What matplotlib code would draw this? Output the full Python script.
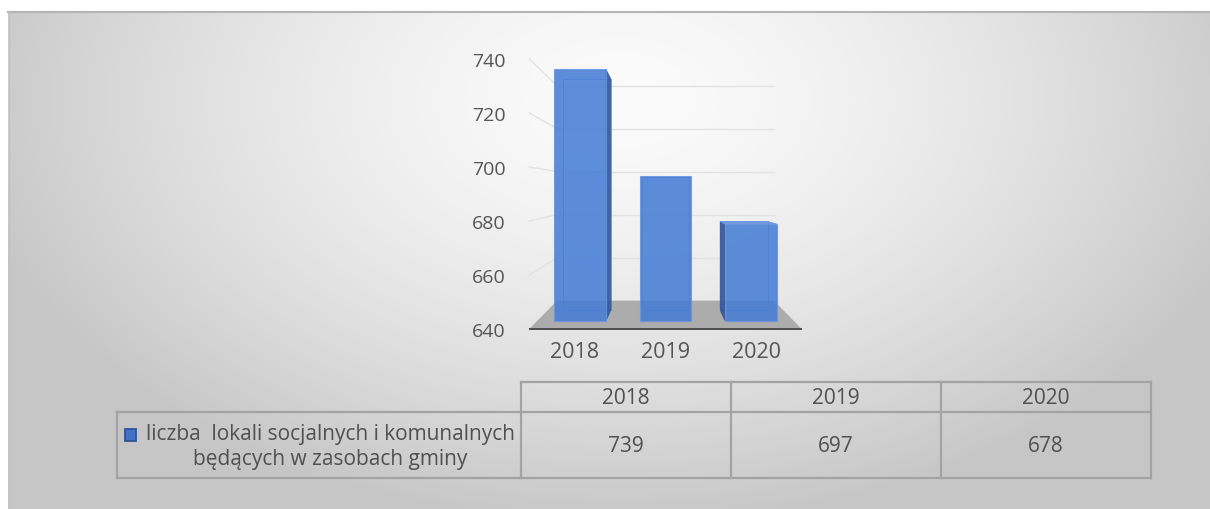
import numpy as np
import matplotlib
matplotlib.use("Agg")
import matplotlib.pyplot as plt
from matplotlib.patches import Polygon, Rectangle

# ---------------- data ----------------
categories = ["2018", "2019", "2020"]
values = [739, 697, 678]
series_name = "liczba  lokali socjalnych i komunalnych\nbędących w zasobach gminy"
yticks = [640, 660, 680, 700, 720, 740]

plt.rcParams["font.family"] = ["Open Sans", "DejaVu Sans"]

W, H = 1210, 510
fig = plt.figure(figsize=(W / 100, H / 100), dpi=100)
fig.patch.set_facecolor("white")


def fx(px):
    return px / W


def fy(py):
    return 1 - py / H


# ---------------- background (radial gray gradient) ----------------
bg = fig.add_axes([0, 0, 1, 1], zorder=0)
bg.set_xlim(0, W)
bg.set_ylim(H, 0)
bg.axis("off")
X, Y = np.meshgrid(np.arange(8, W, 2.0), np.arange(12, H, 2.0))
d = np.sqrt(((X - 620) / 700) ** 2 + ((Y - 100) / 450) ** 2)
g = np.clip(251 - 57 * d ** 1.5, 198, 251) / 255
bg.imshow(np.dstack([g, g, g]), extent=(8, W, H, 12), aspect="auto",
          interpolation="bilinear")
bg.plot([8, W], [12.5, 12.5], color="#b4b4b4", lw=1.5)
bg.plot([8.5, 8.5], [12, H], color="#c2c2c2", lw=1)
bg.set_xlim(0, W)
bg.set_ylim(H, 0)

# ---------------- 3D column chart ----------------
L, R, T, B = 529.3, 801.7, 60, 330
ax = fig.add_axes([fx(L), fy(B), (R - L) / W, (B - T) / H], zorder=2)
ax.patch.set_alpha(0)
ax.set_xlim(-0.5, 2.5)
ax.set_ylim(640, 740)
for s in ax.spines.values():
    s.set_visible(False)
ax.set_yticks(yticks)
ax.set_xticks(range(len(categories)))
ax.set_xticklabels(categories)
ax.tick_params(axis="y", length=0, labelsize=14, labelcolor="#555555", pad=17)
ax.tick_params(axis="x", length=0, labelsize=15.5, labelcolor="#555555", pad=9)

VX, VY = 1.0, 691.5          # vanishing point (data coords)
K_WALL = 0.796               # depth factor of back wall
K_BF, K_BB = 0.94, 0.865     # depth factors of bar front / back faces
HW = 0.303                   # half bar width (front plane)
BASE = yticks[0]


def proj(x, y, k):
    return (VX + k * (x - VX), VY + k * (y - VY))


x0, x1 = ax.get_xlim()
# back wall and side wall gridlines
for v in yticks[1:]:
    p, q = proj(x0, v, K_WALL), proj(x1, v, K_WALL)
    ax.plot([p[0], q[0]], [p[1], q[1]], color="#e2e2e2", lw=1, zorder=0.5,
            clip_on=False)
    p2 = proj(x0, v, 1.0)
    ax.plot([p2[0], p[0]], [p2[1], p[1]], color="#e2e2e2", lw=1, zorder=0.5,
            clip_on=False)

# floor
floor = [proj(x0, BASE, 1), proj(x1, BASE, 1), proj(x1, BASE, K_WALL),
         proj(x0, BASE, K_WALL)]
ax.add_patch(Polygon(floor, closed=True, fc="#acacac", ec="none", zorder=1,
                     clip_on=False))
ax.plot([x0, x1], [BASE, BASE], color="#4d4d4d", lw=1.4, zorder=1.2,
        clip_on=False, solid_capstyle="butt")

FACE = "#477ED5"
SIDE = "#34569A"
TOP = "#6E98E0"
EDGE = "#6A96DD"
ALPHA = 0.88

xs = np.arange(len(values))
vals = np.array(values, dtype=float)

for x, v in zip(xs, vals):
    # back face edges (seen through the translucent bar)
    back = [proj(x - HW, BASE, K_BB), proj(x + HW, BASE, K_BB),
            proj(x + HW, v, K_BB), proj(x - HW, v, K_BB)]
    ax.add_patch(Polygon(back, closed=True, fill=False, ec="#3F6DBF", lw=0.7,
                         alpha=0.6, zorder=3, clip_on=False))
    # visible side face
    if x != VX:
        sx = x + HW if x < VX else x - HW
        side = [proj(sx, BASE, K_BF), proj(sx, v, K_BF), proj(sx, v, K_BB),
                proj(sx, BASE, K_BB)]
        ax.add_patch(Polygon(side, closed=True, fc=SIDE, ec=SIDE, lw=0.6,
                             alpha=0.92, zorder=4, clip_on=False))
    # top face (visible when below eye level)
    if v < VY:
        top = [proj(x - HW, v, K_BF), proj(x + HW, v, K_BF),
               proj(x + HW, v, K_BB), proj(x - HW, v, K_BB)]
        ax.add_patch(Polygon(top, closed=True, fc=TOP, ec=EDGE, lw=0.6,
                             alpha=0.95, zorder=4.5, clip_on=False))

# front faces
fc_x = VX + K_BF * (xs - VX)
f_bot = VY + K_BF * (BASE - VY)
f_top = VY + K_BF * (vals - VY)
ax.bar(fc_x, f_top - f_bot, width=2 * HW * K_BF, bottom=f_bot, color=FACE,
       alpha=ALPHA, edgecolor=EDGE, linewidth=0.8, zorder=5, clip_on=False)

# ---------------- data table ----------------
tb = fig.add_axes([0, 0, 1, 1], zorder=3)
tb.set_xlim(0, W)
tb.set_ylim(H, 0)
tb.axis("off")
tb.patch.set_alpha(0)

cols = [520.7, 730.7, 940.7, 1151.0]
rows = [383.3, 412.7, 479.3]
left = 116.7
BC = "#a3a3a3"
lw = 1.6
tb.plot([cols[0], cols[-1]], [rows[0], rows[0]], color=BC, lw=lw)
tb.plot([left, cols[-1]], [rows[1], rows[1]], color=BC, lw=lw)
tb.plot([left, cols[-1]], [rows[2], rows[2]], color=BC, lw=lw)
tb.plot([left, left], [rows[1], rows[2]], color=BC, lw=lw)
for c in cols:
    tb.plot([c, c], [rows[0], rows[2]], color=BC, lw=lw)

TXT = "#505050"
for i, cat in enumerate(categories):
    cx = (cols[i] + cols[i + 1]) / 2
    tb.text(cx, (rows[0] + rows[1]) / 2 + 1, cat, ha="center", va="center",
            fontsize=15, color=TXT)
    tb.text(cx, (rows[1] + rows[2]) / 2 + 1, f"{values[i]}", ha="center",
            va="center", fontsize=15, color=TXT)

lab = tb.text(330, (rows[1] + rows[2]) / 2 + 1, series_name, ha="center",
              va="center", multialignment="center", fontsize=15, color=TXT,
              linespacing=1.3)
fig.canvas.draw()
bb = lab.get_window_extent()
lx = bb.x0 - 21
ly_top = H - bb.y1 + 6
tb.add_patch(Rectangle((lx, ly_top), 11, 12, fc="#4472C4", ec="#2F5597",
                       lw=1.3))

fig.savefig("out.png", dpi=100, facecolor=fig.get_facecolor())
